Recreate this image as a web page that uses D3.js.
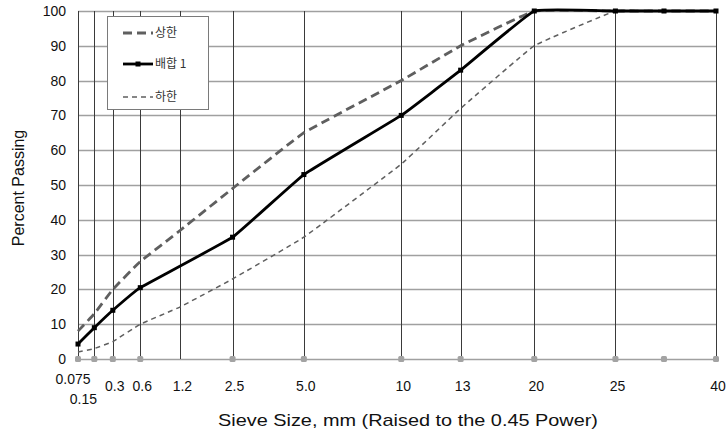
<!DOCTYPE html>
<html>
<head>
<meta charset="utf-8">
<script src="https://cdn.jsdelivr.net/npm/d3@7"></script>
<style>
  body { margin: 0; background: #fff; }
  svg { display: block; font-family: Arial, "Liberation Sans", sans-serif; }
</style>
</head>
<body>
<div id="chart"></div>
<script>
// sieve positions as plotted (mm, on a 0.45-power axis) and their labels
const sievePos = [0.075, 0.16, 0.3, 0.6, 1.25, 2.5, 5, 10, 14, 20, 28, 33.5, 40];
const sieveLabels = ["0.075", "0.15", "0.3", "0.6", "1.2", "2.5", "5.0", "10", "13", "20", "25", "", "40"];

// percent passing
const upper = [8, 13, 20, 28, 37, 49, 65, 80, 90, 100, 100, 100, 100];
const mix = [4.3, 9, 14, 20.5, null, 35, 53, 70, 83, 100, 100, 100, 100];
const lower = [2, 3, 5, 10, 15, 23, 35, 56, 72, 90, 100, 100, 100];
const baseMarks = [0, 0, 0, 0, null, 0, 0, 0, 0, 0, 0, 0, 0];

const yTicks = [0, 10, 20, 30, 40, 50, 60, 70, 80, 90, 100];
const legendNames = ["상한", "배합 1", "하한"];

const width = 727;
const height = 432;
const margin = { top: 11, right: 11, bottom: 73, left: 78 };

const x = d3.scalePow().exponent(0.45)
  .domain([0.075, 40])
  .range([margin.left, width - margin.right]);

const y = d3.scaleLinear()
  .domain([0, 100])
  .range([height - margin.bottom, margin.top]);

const svg = d3.select("#chart").append("svg")
  .attr("width", width)
  .attr("height", height);

// horizontal gridlines
svg.append("g")
  .selectAll("line")
  .data(yTicks)
  .join("line")
  .attr("x1", margin.left)
  .attr("x2", width - margin.right)
  .attr("y1", d => Math.round(y(d)) + 0.5)
  .attr("y2", d => Math.round(y(d)) + 0.5)
  .attr("stroke", "#a0a0a0")
  .attr("stroke-width", 1.3);

// vertical gridlines at labelled sieves
const labelled = sievePos.map((p, i) => ({ p, label: sieveLabels[i], i })).filter(d => d.label !== "");

svg.append("g")
  .selectAll("line")
  .data(labelled)
  .join("line")
  .attr("x1", d => Math.round(x(d.p)) + 0.5)
  .attr("x2", d => Math.round(x(d.p)) + 0.5)
  .attr("y1", y(100))
  .attr("y2", y(0))
  .attr("stroke", "#3a3a3a")
  .attr("stroke-width", 1);

// y tick labels
svg.append("g")
  .selectAll("text")
  .data(yTicks)
  .join("text")
  .attr("x", margin.left - 12)
  .attr("y", d => y(d))
  .attr("dy", "0.36em")
  .attr("text-anchor", "end")
  .attr("font-size", 14)
  .attr("fill", "#111")
  .text(d => d);

// x tick labels (0.15 drops to a second row)
svg.append("g")
  .selectAll("text")
  .data(labelled)
  .join("text")
  .attr("x", d => x(d.p) + (d.label === "0.075" ? -5 : d.label === "0.15" ? -11 : 2))
  .attr("y", d => d.label === "0.075" ? 384 : d.label === "0.15" ? 404 : 391)
  .attr("text-anchor", "middle")
  .attr("font-size", 14)
  .attr("fill", "#111")
  .text(d => d.label);

// axis titles
svg.append("text")
  .attr("x", 408)
  .attr("y", 426)
  .attr("text-anchor", "middle")
  .attr("font-size", 17)
  .attr("textLength", 380)
  .attr("lengthAdjust", "spacingAndGlyphs")
  .attr("fill", "#111")
  .text("Sieve Size, mm (Raised to the 0.45 Power)");

svg.append("text")
  .attr("transform", "translate(24,188) rotate(-90)")
  .attr("text-anchor", "middle")
  .attr("font-size", 16)
  .attr("fill", "#111")
  .text("Percent Passing");

// lines
const toPoints = arr => sievePos.map((p, i) => ({ p, v: arr[i] })).filter(d => d.v !== null);

const line = d3.line()
  .x(d => x(d.p))
  .y(d => y(d.v))
  .curve(d3.curveCardinal.tension(0.75));

svg.append("path")
  .attr("d", line(toPoints(upper)))
  .attr("fill", "none")
  .attr("stroke", "#5f5f5f")
  .attr("stroke-width", 2.8)
  .attr("stroke-dasharray", "9,5");

svg.append("path")
  .attr("d", line(toPoints(lower)))
  .attr("fill", "none")
  .attr("stroke", "#5f5f5f")
  .attr("stroke-width", 1.5)
  .attr("stroke-dasharray", "5,4");

svg.append("path")
  .attr("d", line(toPoints(mix)))
  .attr("fill", "none")
  .attr("stroke", "#000")
  .attr("stroke-width", 2.8);

// grey markers along the base
svg.append("g")
  .selectAll("rect")
  .data(toPoints(baseMarks))
  .join("rect")
  .attr("x", d => x(d.p) - 3)
  .attr("y", d => y(d.v) - 3)
  .attr("width", 6)
  .attr("height", 6)
  .attr("rx", 1.5)
  .attr("fill", "#a3a3a3");

// mix markers
svg.append("g")
  .selectAll("rect")
  .data(toPoints(mix))
  .join("rect")
  .attr("x", d => x(d.p) - 2.5)
  .attr("y", d => y(d.v) - 2.5)
  .attr("width", 5)
  .attr("height", 5)
  .attr("fill", "#000");

// legend
const legend = svg.append("g").attr("transform", "translate(107,16)");

legend.append("rect")
  .attr("x", 0.5)
  .attr("y", 0.5)
  .attr("width", 101)
  .attr("height", 93)
  .attr("fill", "#fff")
  .attr("stroke", "#7a7a7a");

const legendStyles = [
  { stroke: "#5f5f5f", width: 2.8, dash: "9,5", marker: false },
  { stroke: "#000", width: 2.8, dash: null, marker: true },
  { stroke: "#5f5f5f", width: 1.5, dash: "5,4", marker: false }
];
const legendRows = [17, 48, 81];

legendNames.forEach((name, i) => {
  const s = legendStyles[i];
  const row = legend.append("g").attr("transform", `translate(0,${legendRows[i]})`);
  row.append("line")
    .attr("x1", 16)
    .attr("x2", 46)
    .attr("stroke", s.stroke)
    .attr("stroke-width", s.width)
    .attr("stroke-dasharray", s.dash);
  if (s.marker) {
    row.append("rect")
      .attr("x", 28.5)
      .attr("y", -2.5)
      .attr("width", 5)
      .attr("height", 5)
      .attr("fill", "#000");
  }
  row.append("text")
    .attr("x", 48)
    .attr("dy", "0.35em")
    .attr("font-family", "'Noto Sans CJK KR', sans-serif")
    .attr("font-size", 12)
    .attr("fill", "#333")
    .text(name);
});
</script>
</body>
</html>
